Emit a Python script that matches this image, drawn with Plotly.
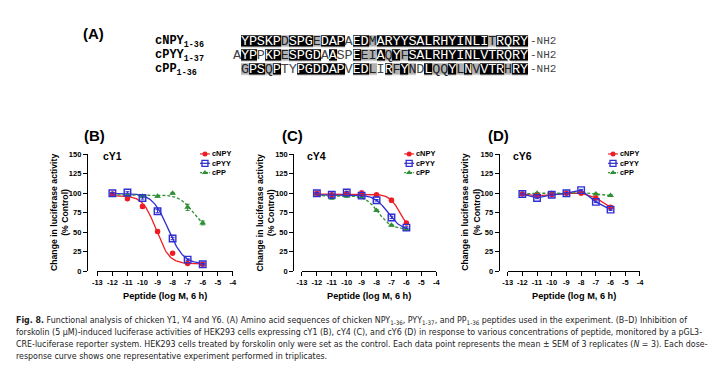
import numpy as np
import plotly.graph_objects as go

W, H = 720, 368

# ---------------- data ----------------
log_conc = [-12, -11, -10, -9, -8, -7, -6]
x_tick_vals = [-13, -12, -11, -10, -9, -8, -7, -6, -5, -4]
x_tick_text = ["-13", "-12", "-11", "-10", "-9", "-8", "-7", "-6", "-5", "-4"]
y_tick_vals = [0, 25, 50, 75, 100, 125, 150]
y_tick_text = ["0", "25", "50", "75", "100", "125", "150"]
series_names = ["cNPY", "cPYY", "cPP"]
receptors = ["cY1", "cY4", "cY6"]
panel_letters = ["(B)", "(C)", "(D)"]

# cY1 (panel B)
y1_cnpy = [99, 93, 83, 51, 23, 10, 9]
y1_cpyy = [100, 101, 94, 77, 42, 15, 9]
y1_cpp = [99, 97, 96, 96, 100, 82, 62]
y1_cnpy_err = [1, 1.5, 2.5, 2, 1.5, 1, 1]
y1_cpyy_err = [1, 1, 1.5, 2, 1.5, 1, 1]
y1_cpp_err = [1, 1, 1, 1, 1, 4, 2.5]
# cY4 (panel C)
y4_cnpy = [100, 98, 100, 100, 98, 91, 62]
y4_cpyy = [100, 98, 101, 97, 91, 69, 56]
y4_cpp = [99, 94, 96, 95, 78, 59, 54]
y4_cnpy_err = [1, 1, 1, 3, 1, 2.5, 1.5]
y4_cpyy_err = [1, 1, 1.5, 1, 1, 1.5, 1]
y4_cpp_err = [1, 1.5, 1, 1, 1, 1, 1]
# cY6 (panel D)
y6_cnpy = [99, 97, 98, 100, 100, 94, 82]
y6_cpyy = [99, 94, 98, 100, 104, 89, 79]
y6_cpp = [99, 100, 100, 100, 101, 99, 97]
y6_cnpy_err = [1, 1, 1, 1, 1, 1.5, 1.5]
y6_cpyy_err = [1, 1, 1, 1, 1, 1, 1]
y6_cpp_err = [1, 1, 1, 1, 1, 1, 1]

# fitted four-parameter logistic curves: [top, bottom, logIC50, hill]; None -> points joined
fit_y1 = [[97, 9.5, -9.1, 1.0], [100, 9, -8.3, 0.85], [98, 54, -6.68, 1.0]]
fit_y4 = [[99, 50, -6.41, 1.2], [98, 53, -7.26, 1.0], [97, 54, -7.88, 1.0]]
fit_y6 = [None, None, None]

# sequence alignment (A)
seq_names = ["cNPY<sub>1-36</sub>", "cPYY<sub>1-37</sub>", "cPP<sub>1-36</sub>"]
seq_cnpy = " YPSKPDSPGEDAPAEDMARYYSALRHYINLITRQRY"
seq_cpyy = "AYPPKPESPGDAASPEEIAQYFSALRHYINLVTRQRY"
seq_cpp = " GPSQPTYPGDDAPVEDLIRFYNDLQQYLNVVTRHRY"
# shading: b = identical (black), g = similar (grey), w = unshaded
shade_cnpy = " bbbbbgbbbgbbbwbbgbbbbbbbbbbbbbbgbbbbb"
shade_cpyy = "wbbwbbgbbbbwbwwbggbgbgbbbbbbbbbbbbbbb"
shade_cpp = " gbbgbwwbbbbbbwbbgwbgbgwbggbgbgbbbgbb"

caption_lines = [
    "<b>Fig. 8.</b> Functional analysis of chicken Y1, Y4 and Y6. (A) Amino acid sequences of chicken NPY<sub>1-36</sub>, PYY<sub>1-37</sub>, and PP<sub>1-36</sub> peptides used in the experiment. (B–D) Inhibition of",
    "forskolin (5 μM)-induced luciferase activities of HEK293 cells expressing cY1 (B), cY4 (C), and cY6 (D) in response to various concentrations of peptide, monitored by a pGL3-",
    "CRE-luciferase reporter system. HEK293 cells treated by forskolin only were set as the control. Each data point represents the mean ± SEM of 3 replicates (<i>N</i> = 3). Each dose-",
    "response curve shows one representative experiment performed in triplicates.",
]

# ---------------- styles ----------------
SANS = "Liberation Sans, Arial, sans-serif"
MONO = "Liberation Mono, Courier New, monospace"
CAP = "Liberation Sans Narrow, DejaVu Sans Condensed, Liberation Sans, sans-serif"
colors = ["#ee1d25", "#2e2ed2", "#2f8f35"]
symbols = ["circle", "square-open", "triangle-up"]
msizes = [5.5, 6.5, 6]
dashes = ["solid", "solid", "3px,2px"]

panel_data = [
    ([y1_cnpy, y1_cpyy, y1_cpp], [y1_cnpy_err, y1_cpyy_err, y1_cpp_err], fit_y1),
    ([y4_cnpy, y4_cpyy, y4_cpp], [y4_cnpy_err, y4_cpyy_err, y4_cpp_err], fit_y4),
    ([y6_cnpy, y6_cpyy, y6_cpp], [y6_cnpy_err, y6_cpyy_err, y6_cpp_err], fit_y6),
]

# panel geometry in pixels: y-axis line x, x-axis start, x-axis end
geom = [(83, 93.5, 230.7), (292, 300.7, 436.7), (500, 509, 643)]
PY_TOP, PY_BOT = 154, 274
legend_pos = [(202.5, 208.5), (409.3, 415.3), (615.7, 621.7)]
LEG_MID, LEG_FS = 163.3, 7.4
legend_rows = [LEG_MID - 1.3 * LEG_FS, LEG_MID, LEG_MID + 1.3 * LEG_FS]
title_pos = [97, 304, 512]
letter_x = [78, 278, 487]


def px(p):
    return p / W


def py(p):
    return 1 - p / H


def ann(x, y, text, font, xanchor="center", yanchor="middle", **kw):
    d = dict(x=x, y=y, text=text, showarrow=False, font=font,
             xanchor=xanchor, yanchor=yanchor)
    d.setdefault("xref", "paper")
    d.setdefault("yref", "paper")
    d.update(kw)
    return d


fig = go.Figure()
layout = dict(
    width=W, height=H, margin=dict(l=0, r=0, t=0, b=0),
    paper_bgcolor="white", plot_bgcolor="rgba(0,0,0,0)", showlegend=False,
)
annotations = []

for i, (ys_list, err_list, fits) in enumerate(panel_data):
    sfx = "" if i == 0 else str(i + 1)
    xa, ya = "x" + sfx, "y" + sfx
    yline, x0, x1 = geom[i]
    # curves
    for s in range(3):
        fit = fits[s]
        if fit is not None:
            top, bot, c, h = fit
            xs = np.linspace(log_conc[0], log_conc[-1], 161)
            yc = bot + (top - bot) / (1 + 10 ** ((xs - c) * h))
        else:
            xs, yc = log_conc, ys_list[s]
        fig.add_trace(go.Scatter(
            x=xs, y=yc, mode="lines", xaxis=xa, yaxis=ya, hoverinfo="skip",
            line=dict(color=colors[s], width=1.3, dash=dashes[s]),
        ))
    # points
    for s in [2, 0, 1]:
        fig.add_trace(go.Scatter(
            x=log_conc, y=ys_list[s], mode="markers", xaxis=xa, yaxis=ya,
            name=series_names[s], cliponaxis=False,
            marker=dict(symbol=symbols[s], size=msizes[s], color=colors[s],
                        line=dict(color=colors[s], width=1.4 if s == 1 else 0)),
            error_y=dict(type="data", array=err_list[s], color=colors[s],
                         thickness=1, width=2),
        ))
    axfont = dict(family=SANS, size=7.5, color="black", weight="bold")
    layout["xaxis" + sfx] = dict(
        domain=[px(x0), px(x1)], range=[-13, -4], anchor=ya,
        tickmode="array", tickvals=x_tick_vals, ticktext=x_tick_text,
        ticks="outside", ticklen=4, tickwidth=1.2, tickcolor="black",
        showline=True, linecolor="black", linewidth=1.3,
        showgrid=False, zeroline=False, tickfont=axfont,
    )
    layout["yaxis" + sfx] = dict(
        domain=[py(PY_BOT), py(PY_TOP)], range=[0, 150], anchor="free",
        position=px(yline), tickmode="array", tickvals=y_tick_vals,
        ticktext=y_tick_text, ticks="outside", ticklen=4, tickwidth=1.2,
        tickcolor="black", showline=True, linecolor="black", linewidth=1.3,
        showgrid=False, zeroline=False, tickfont=axfont,
    )
    # axis titles
    annotations.append(ann(px((x0 + x1) / 2), py(299), "Peptide (log M, 6 h)",
                           dict(family=SANS, size=9.2, color="black", weight="bold")))
    annotations.append(ann(px(yline - 28), py((PY_TOP + PY_BOT) / 2),
                           "Change in luciferase activity<br>(% Control)",
                           dict(family=SANS, size=8.7, color="black", weight="bold"),
                           textangle=-90))
    annotations.append(ann(px(title_pos[i]), py(156), receptors[i],
                           dict(family=SANS, size=10.5, color="black", weight="bold"),
                           xanchor="left"))
    annotations.append(ann(px(letter_x[i]), py(135), panel_letters[i],
                           dict(family=SANS, size=15, color="black", weight="bold"),
                           xanchor="left"))
    # legend keys (drawn on pixel overlay axis) and one multi-line label block
    mx, tx = legend_pos[i]
    for s in range(3):
        ry = legend_rows[s]
        fig.add_trace(go.Scatter(
            x=[mx - 5, mx + 5], y=[ry, ry], mode="lines", xaxis="x5", yaxis="y5",
            hoverinfo="skip",
            line=dict(color=colors[s], width=1.2, dash="2px,1px" if s == 2 else "solid"),
        ))
        fig.add_trace(go.Scatter(
            x=[mx], y=[ry], mode="markers", xaxis="x5", yaxis="y5", hoverinfo="skip",
            marker=dict(symbol=symbols[s], size=msizes[s] - 0.5, color=colors[s],
                        line=dict(color=colors[s], width=1.3 if s == 1 else 0)),
        ))
    annotations.append(ann(px(tx), py(LEG_MID), "<br>".join(series_names),
                           dict(family=SANS, size=LEG_FS, color="black", weight="bold"),
                           xanchor="left", align="left", borderpad=0))

# pixel overlay axis for legend keys
layout["xaxis5"] = dict(domain=[0, 1], range=[0, W], visible=False, anchor="y5")
layout["yaxis5"] = dict(domain=[0, 1], range=[H, 0], visible=False, anchor="x5")

# ---------------- alignment (A) ----------------
seqs = [seq_cnpy, seq_cpyy, seq_cpp]
shades = [shade_cnpy, shade_cpyy, shade_cpp]
shade_val = {" ": None, "w": 0, "g": 1, "b": 2}
z = [[shade_val[ch] for ch in row] for row in shades]
ncol = len(seq_cpyy)
fig.add_trace(go.Heatmap(
    z=z, x=list(range(ncol)), y=[0, 1, 2], xaxis="x4", yaxis="y4",
    colorscale=[[0, "white"], [0.5, "#b2b2b2"], [1, "black"]],
    zmin=0, zmax=2, showscale=False, ygap=2.5, xgap=0, hoverinfo="skip",
))
tx_, ty_, tt_, tc_ = [], [], [], []
for r, (sq, sh) in enumerate(zip(seqs, shades)):
    for c, (ch, s) in enumerate(zip(sq, sh)):
        if ch == " ":
            continue
        tx_.append(c)
        ty_.append(r)
        tt_.append(ch)
        tc_.append("white" if s == "b" else ("#222222" if s == "g" else "#444444"))
fig.add_trace(go.Scatter(
    x=tx_, y=ty_, text=tt_, mode="text", xaxis="x4", yaxis="y4",
    textposition="middle center", hoverinfo="skip",
    textfont=dict(family=MONO, size=13.5, color=tc_),
))
layout["xaxis4"] = dict(domain=[px(230.9), px(529.7)], range=[-0.5, ncol - 0.5],
                        visible=False, anchor="y4")
layout["yaxis4"] = dict(domain=[py(74), py(31)], range=[2.5, -0.5],
                        visible=False, anchor="x4")
for r in range(3):
    annotations.append(ann(ncol - 0.5, r, "-NH2",
                           dict(family=MONO, size=11, color="#444444"),
                           xanchor="left", xref="x4", yref="y4"))
    annotations.append(ann(px(150), r, seq_names[r],
                           dict(family=MONO, size=12, color="black", weight="bold"),
                           xanchor="left", yref="y4", yshift=-1))
annotations.append(ann(px(77), py(30), "(A)",
                       dict(family=SANS, size=15, color="black", weight="bold"),
                       xanchor="left"))

# ---------------- caption ----------------
for k, line in enumerate(caption_lines):
    annotations.append(ann(px(9), py(324 + 12.2 * k), line,
                           dict(family=CAP, size=8.8, color="#222222"),
                           xanchor="left"))

layout["annotations"] = annotations
fig.update_layout(**layout)
fig.write_html(
    "out.html",
    config={"displayModeBar": False},
    post_script="document.body.style.margin='0';document.body.style.overflow='hidden';",
)
